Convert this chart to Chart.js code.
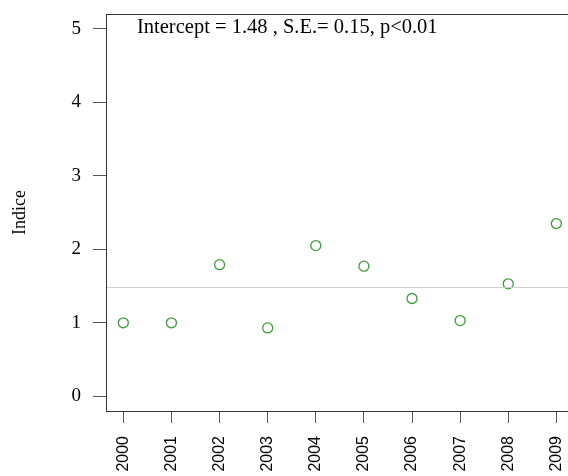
<!DOCTYPE html>
<html>
<head>
<meta charset="utf-8">
<script src="https://cdn.jsdelivr.net/npm/chart.js@4"></script>
<style>
  html, body { margin: 0; padding: 0; background: #fff; overflow: hidden; }
  #clip { width: 568px; height: 476px; overflow: hidden; position: relative; }
  #indiceChart { position: absolute; left: 0; top: 0; }
</style>
</head>
<body>
<div id="clip"><canvas id="indiceChart" width="580" height="476"></canvas></div>
<script>
// values
const years = [2000, 2001, 2002, 2003, 2004, 2005, 2006, 2007, 2008, 2009];
const indice = [1.0, 1.0, 1.79, 0.93, 2.05, 1.77, 1.33, 1.03, 1.53, 2.35];
const intercept = [1.48];
const yTicks = [0, 1, 2, 3, 4, 5];
const noteText = "Intercept = 1.48 , S.E.= 0.15, p<0.01";

// R-style 4% range extension
const xMin = 1999.64, xMax = 2009.36;
const yMin = -0.2, yMax = 5.2;

function noOverhang(scale) {
  scale.paddingTop = 0;
  scale.paddingBottom = 0;
  scale.paddingLeft = 0;
  scale.paddingRight = 0;
}

const boxPlugin = {
  id: "box",
  afterDraw(chart) {
    const { ctx, chartArea } = chart;
    ctx.save();
    ctx.strokeStyle = "#333";
    ctx.lineWidth = 1;
    ctx.strokeRect(
      Math.round(chartArea.left) + 0.5,
      Math.round(chartArea.top) + 0.5,
      chartArea.right - chartArea.left,
      chartArea.bottom - chartArea.top
    );
    ctx.fillStyle = "#000";
    ctx.font = "20.5px 'Liberation Serif'";
    ctx.textBaseline = "alphabetic";
    ctx.textAlign = "left";
    ctx.fillText(noteText, 137, 33);
    ctx.restore();
  },
};

new Chart(document.getElementById("indiceChart"), {
  type: "scatter",
  data: {
    datasets: [
      {
        type: "line",
        label: "Intercept",
        data: [
          { x: xMin, y: intercept[0] },
          { x: xMax, y: intercept[0] },
        ],
        borderColor: "#d0d0d0",
        borderWidth: 1,
        pointRadius: 0,
        fill: false,
      },
      {
        label: "Indice",
        data: years.map((yr, i) => ({ x: yr, y: indice[i] })),
        pointStyle: "circle",
        pointRadius: 5,
        pointBorderWidth: 1.3,
        pointBorderColor: "#3f9b3f",
        pointBackgroundColor: "rgba(0,0,0,0)",
      },
    ],
  },
  options: {
    responsive: false,
    animation: false,
    layout: { padding: { left: 0, top: 14, right: 0, bottom: 0 } },
    plugins: {
      legend: { display: false },
      tooltip: { enabled: false },
    },
    scales: {
      x: {
        type: "linear",
        min: xMin,
        max: xMax,
        afterBuildTicks: (scale) => {
          scale.ticks = years.map((v) => ({ value: v }));
        },
        afterFit: (scale) => {
          scale.height = 65;
          noOverhang(scale);
        },
        grid: {
          drawOnChartArea: false,
          drawTicks: true,
          tickLength: 12,
          color: "#555",
        },
        border: { display: false },
        ticks: {
          autoSkip: false,
          minRotation: 90,
          maxRotation: 90,
          padding: 13,
          color: "#000",
          font: { family: "'Liberation Sans'", size: 16 },
          callback: (v) => String(v),
        },
      },
      y: {
        min: yMin,
        max: yMax,
        afterBuildTicks: (scale) => {
          scale.ticks = yTicks.map((v) => ({ value: v }));
        },
        afterFit: (scale) => {
          scale.width = 106;
          noOverhang(scale);
        },
        grid: {
          drawOnChartArea: false,
          drawTicks: true,
          tickLength: 13,
          color: "#555",
        },
        border: { display: false },
        ticks: {
          padding: 12,
          color: "#000",
          font: { family: "'Liberation Serif'", size: 19 },
        },
        title: {
          display: true,
          text: "Indice",
          color: "#000",
          font: { family: "'Liberation Serif'", size: 18 },
          padding: { top: 9, bottom: 0 },
        },
      },
    },
  },
  plugins: [boxPlugin],
});
</script>
</body>
</html>
